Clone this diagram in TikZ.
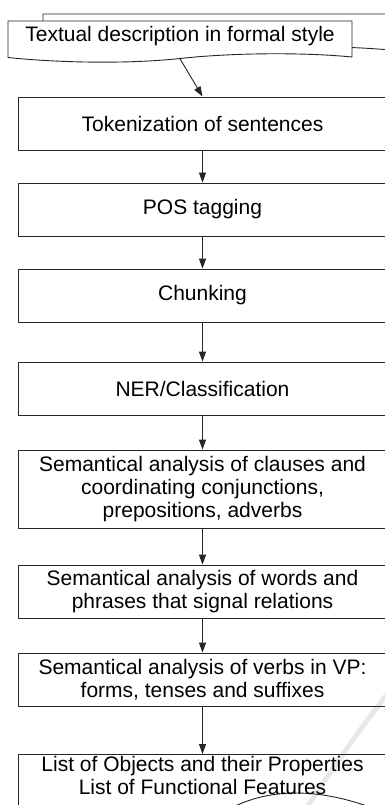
\documentclass[tikz,border=0pt]{standalone}
\usepackage{fontspec}
\setmainfont{Liberation Sans}
\usetikzlibrary{arrows.meta}
\begin{document}
\begin{tikzpicture}[x=1pt,y=-1pt,
  line width=0.9pt,
  every node/.style={font=\fontsize{21}{23}\selectfont, text=black},
  stepbox/.style={draw=black!85, rectangle, minimum width=368pt, inner sep=0pt, align=center},
  flow/.style={draw=black!85, -{Triangle[length=10pt,width=7pt]}, shorten >=0pt}
]
\useasboundingbox (0,0) rectangle (385,805);
% faint watermark stroke
\draw[line width=5pt, black!9, line cap=round] (300,818) .. controls (335,765) and (355,735) .. (392,688);
% back document
\draw[draw=black!85] (43,22) -- (43,14) -- (390,14) -- (390,50) .. controls (335,45) and (265,46) .. (215,51.5);
% front document
\draw[draw=black!85, fill=white] (8,21) -- (352,21) -- (352,57) .. controls (300,52) and (230,53) .. (180,58.5) .. controls (130,64) and (60,63) .. (8,57.5) -- cycle;
\node (src) at (180,36.5) {Textual description in formal style};
\coordinate (srcb) at (180,58.8);
% process boxes
\node[stepbox, minimum height=53pt] (tok) at (202.5,123.5) {Tokenization of sentences};
\node[stepbox, minimum height=53pt] (pos) at (202.5,209.5) {POS tagging};
\node[stepbox, minimum height=53pt] (chunk) at (202.5,295.5) {Chunking};
\node[stepbox, minimum height=53pt] (ner) at (202.5,388.5) {NER/Classification};
\node[stepbox, minimum height=78pt] (sem1) at (202.5,489) {Semantical analysis of clauses and\\coordinating conjunctions,\\prepositions, adverbs};
\node[stepbox, minimum height=53pt] (sem2) at (202.5,591.5) {Semantical analysis of words and\\phrases that signal relations};
\node[stepbox, minimum height=53pt] (sem3) at (202.5,679.5) {Semantical analysis of verbs in VP:\\forms, tenses and suffixes};
% final document
\draw[draw=black!85] (18.5,830) -- (18.5,754) -- (390,754) -- (390,830);
\draw[draw=black!85] (215,818) .. controls (262,784) and (325,786) .. (392,816);
\coordinate (fin) at (202.5,754);
\node[align=center] (final) at (202.5,775.5) {List of Objects and their Properties\\List of Functional Features};
% connectors
\draw[flow] (srcb) -- (tok.north);
\draw[flow] (tok) -- (pos);
\draw[flow] (pos) -- (chunk);
\draw[flow] (chunk) -- (ner);
\draw[flow] (ner) -- (sem1);
\draw[flow] (sem1) -- (sem2);
\draw[flow] (sem2) -- (sem3);
\draw[flow] (sem3) -- (fin);
\end{tikzpicture}
\end{document}
